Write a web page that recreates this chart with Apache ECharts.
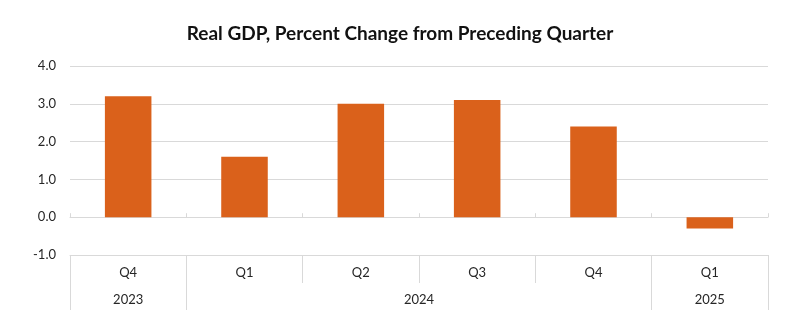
<!DOCTYPE html>
<html>
<head>
<meta charset="utf-8">
<script src="https://cdn.jsdelivr.net/npm/echarts@6/dist/echarts.min.js"></script>
<style>
html,body{margin:0;padding:0;background:#fff;}
#c{width:800px;height:326px;}
</style>
</head>
<body>
<div id="c"></div>
<script>
var titleText = 'Real GDP, Percent Change from Preceding Quarter';
var quarters = ['Q4', 'Q1', 'Q2', 'Q3', 'Q4', 'Q1'];
var quarterYears = ['2023', '2024', '2024', '2024', '2024', '2025'];
var gdpChange = [3.2, 1.6, 3.0, 3.1, 2.4, -0.3];
var yMin = -1, yMax = 4, yStep = 1;

// Build the year row (half-quarter points) from the quarter/year mapping
var yearLabels = [];
var yearBoundaries = {};
for (var i = 0; i <= quarters.length * 2; i++) yearLabels.push('');
var start = 0;
for (var q = 1; q <= quarterYears.length; q++) {
  if (q === quarterYears.length || quarterYears[q] !== quarterYears[start]) {
    var count = q - start;
    yearLabels[start * 2 + count] = quarterYears[start];
    yearBoundaries[start * 2] = true;
    yearBoundaries[q * 2] = true;
    start = q;
  }
}

var FONT = 'Lato';
var GRID = '#d9d9d9';
var TXT = '#262626';

var chart = echarts.init(document.getElementById('c'), null, {renderer: 'canvas'});
chart.setOption({
  animation: false,
  title: {
    text: titleText,
    left: 'center',
    top: 19,
    textStyle: {fontFamily: FONT, fontSize: 19, fontWeight: 'bold', color: '#111'}
  },
  grid: {left: 70, right: 32, top: 66, bottom: 71, containLabel: false},
  yAxis: {
    type: 'value',
    min: yMin, max: yMax, interval: yStep,
    axisLine: {show: false},
    axisTick: {show: false},
    splitLine: {lineStyle: {color: GRID, width: 1}},
    axisLabel: {
      margin: 14,
      fontFamily: FONT, fontSize: 13, color: TXT,
      formatter: function (v) { return v.toFixed(1); }
    }
  },
  xAxis: [
    {
      type: 'category',
      data: quarters,
      position: 'bottom',
      axisLine: {onZero: true, lineStyle: {color: GRID, width: 1}},
      axisTick: {show: true, inside: true, length: 4, lineStyle: {color: GRID}},
      axisLabel: {show: false},
      splitLine: {show: false}
    },
    {
      type: 'category',
      data: quarters,
      position: 'bottom',
      axisLine: {onZero: false, show: true, lineStyle: {color: GRID, width: 1}},
      axisTick: {show: true, inside: false, length: 28, lineStyle: {color: GRID}},
      axisLabel: {margin: 11, fontFamily: FONT, fontSize: 13, color: TXT},
      splitLine: {show: false}
    },
    {
      type: 'category',
      data: yearLabels,
      boundaryGap: false,
      position: 'bottom',
      axisLine: {onZero: false, show: false},
      axisTick: {
        show: true, inside: false, length: 55,
        interval: function (idx) { return !!yearBoundaries[idx]; },
        lineStyle: {color: GRID}
      },
      axisLabel: {
        margin: 38, fontFamily: FONT, fontSize: 13, color: TXT,
        interval: 0,
        showMinLabel: true, showMaxLabel: true
      },
      splitLine: {show: false}
    }
  ],
  series: [{
    type: 'bar',
    xAxisIndex: 0,
    data: gdpChange,
    barWidth: '40%',
    itemStyle: {color: '#DA611B'}
  }]
});
</script>
</body>
</html>
